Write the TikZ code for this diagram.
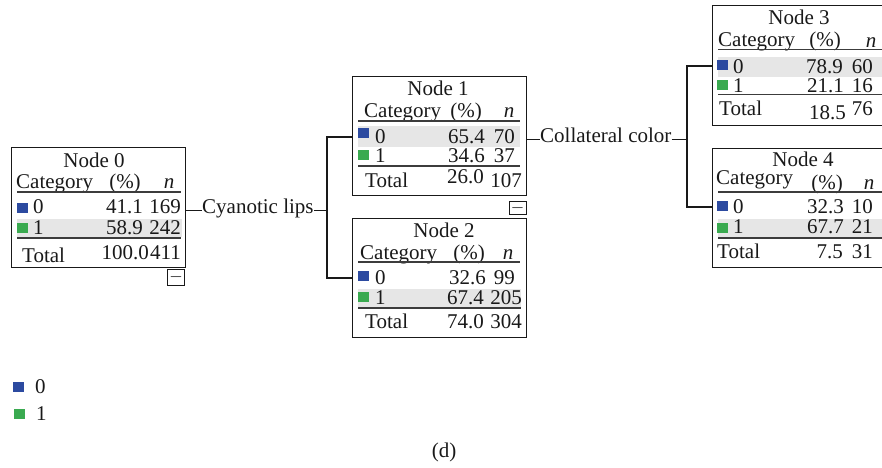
\documentclass[tikz,border=0pt]{standalone}
\usepackage{fontspec}
\setmainfont{Liberation Serif}
\definecolor{catblue}{RGB}{44,74,160}
\definecolor{catgreen}{RGB}{58,170,80}
\definecolor{bandgray}{RGB}{230,230,230}
\definecolor{ink}{RGB}{25,25,25}
\tikzset{
  tbox/.style={draw=ink, line width=1.2pt, rectangle, inner sep=0pt, anchor=north west},
  tx/.style={inner sep=0pt, font=\fontsize{21}{24}\selectfont, text=ink},
  tl/.style={tx, anchor=base west},
  tr/.style={tx, anchor=base east},
  tc/.style={tx, anchor=base},
  sqb/.style={inner sep=0pt, minimum width=10.5pt, minimum height=9.5pt, anchor=north west, fill=catblue},
  sqg/.style={inner sep=0pt, minimum width=10.5pt, minimum height=9.5pt, anchor=north west, fill=catgreen},
  band/.style={fill=bandgray},
  rulel/.style={draw=ink!85, line width=1.3pt},
  conn/.style={draw=ink, line width=1.3pt},
  minusbox/.style={draw=ink, line width=1.1pt, inner sep=0pt, anchor=north west, font=\fontsize{16}{16}\selectfont}
}
\begin{document}
\begin{tikzpicture}[x=1pt,y=-1pt]
\useasboundingbox (0,0) rectangle (882,467);
\clip (0,0) rectangle (882,467);

% ---------------- Node 0 ----------------
\fill[band] (17,219) rectangle (182,237);
\node[tbox, minimum width=174pt, minimum height=120pt] (n0) at (11,147) {};
\node[tc] (n0t) at (94,167) {Node 0};
\node[tl] (n0h1) at (16,188) {Category};
\node[tc] (n0h2) at (125,188) {(\%)};
\node[tc] (n0h3) at (169,188) {\itshape n};
\draw[rulel] (17,192) -- (181,192);
\node[sqb] (n0s0) at (17,203) {};
\node[tl] (n0c0) at (33,213) {0};
\node[tr] (n0p0) at (143,213) {41.1};
\node[tr] (n0n0) at (181,213) {169};
\node[sqg] (n0s1) at (17,223) {};
\node[tl] (n0c1) at (33,234) {1};
\node[tr] (n0p1) at (143,234) {58.9};
\node[tr] (n0n1) at (181,234) {242};
\draw[rulel] (17,238) -- (181,238);
\node[tl] (n0tl) at (22,262) {Total};
\node[tr] (n0tp) at (149,259) {100.0};
\node[tr] (n0tn) at (181,259) {411};
\node[minusbox, minimum width=17pt, minimum height=16pt] (m0) at (167,269) {$-$};

% ---------------- Node 1 ----------------
\fill[band] (358,126) rectangle (520,147);
\node[tbox, minimum width=174pt, minimum height=119pt] (n1) at (352,76) {};
\node[tc] (n1t) at (438,95) {Node 1};
\node[tl] (n1h1) at (364,117) {Category};
\node[tc] (n1h2) at (466,117) {(\%)};
\node[tc] (n1h3) at (509,117) {\itshape n};
\draw[rulel] (358,121) -- (520,121);
\node[sqb] (n1s0) at (358,128) {};
\node[tl] (n1c0) at (375,143) {0};
\node[tr] (n1p0) at (485,143) {65.4};
\node[tr] (n1n0) at (515,143) {70};
\node[sqg] (n1s1) at (358,150) {};
\node[tl] (n1c1) at (375,162) {1};
\node[tr] (n1p1) at (485,162) {34.6};
\node[tr] (n1n1) at (515,162) {37};
\draw[rulel] (358,166) -- (520,166);
\node[tl] (n1tl) at (365,187) {Total};
\node[tr] (n1tp) at (484,183) {26.0};
\node[tr] (n1tn) at (522,187) {107};
\node[minusbox, minimum width=17pt, minimum height=12.5pt] (m1) at (508.5,201) {$-$};

% ---------------- Node 2 ----------------
\fill[band] (358,289) rectangle (521,307);
\node[tbox, minimum width=174pt, minimum height=119pt] (n2) at (352,218) {};
\node[tc] (n2t) at (444,237) {Node 2};
\node[tl] (n2h1) at (360,259) {Category};
\node[tc] (n2h2) at (469,259) {(\%)};
\node[tc] (n2h3) at (508,259) {\itshape n};
\draw[rulel] (358,262) -- (520,262);
\node[sqb] (n2s0) at (358,271) {};
\node[tl] (n2c0) at (375,284) {0};
\node[tr] (n2p0) at (486,284) {32.6};
\node[tr] (n2n0) at (515,284) {99};
\node[sqg] (n2s1) at (358,292) {};
\node[tl] (n2c1) at (375,304) {1};
\node[tr] (n2p1) at (484,304) {67.4};
\node[tr] (n2n1) at (522,304) {205};
\draw[rulel] (358,308) -- (521,308);
\node[tl] (n2tl) at (365,328) {Total};
\node[tr] (n2tp) at (484,328) {74.0};
\node[tr] (n2tn) at (522,328) {304};

% ---------------- Node 3 ----------------
\fill[band] (718,57) rectangle (884,77);
\node[tbox, minimum width=174pt, minimum height=120pt] (n3) at (712,5) {};
\node[tc] (n3t) at (799,24) {Node 3};
\node[tl] (n3h1) at (718,46) {Category};
\node[tc] (n3h2) at (825,46) {(\%)};
\node[tc] (n3h3) at (871,47) {\itshape n};
\draw[rulel] (718,49.5) -- (884,49.5);
\node[sqb] (n3s0) at (717,60) {};
\node[tl] (n3c0) at (733,73) {0};
\node[tr] (n3p0) at (843,73) {78.9};
\node[tr] (n3n0) at (873,73) {60};
\node[sqg] (n3s1) at (717,80) {};
\node[tl] (n3c1) at (733,92) {1};
\node[tr] (n3p1) at (844,92) {21.1};
\node[tr] (n3n1) at (873,92) {16};
\draw[rulel] (718,94.5) -- (884,94.5);
\node[tl] (n3tl) at (719,115) {Total};
\node[tr] (n3tp) at (846,119) {18.5};
\node[tr] (n3tn) at (873,115) {76};

% ---------------- Node 4 ----------------
\fill[band] (718,219) rectangle (884,237);
\node[tbox, minimum width=174pt, minimum height=119pt] (n4) at (712,148) {};
\node[tc] (n4t) at (803,166) {Node 4};
\node[tl] (n4h1) at (716,184) {Category};
\node[tc] (n4h2) at (827,189) {(\%)};
\node[tc] (n4h3) at (869,189) {\itshape n};
\draw[rulel] (718,192) -- (884,192);
\node[sqb] (n4s0) at (717,201) {};
\node[tl] (n4c0) at (733,213) {0};
\node[tr] (n4p0) at (844,213) {32.3};
\node[tr] (n4n0) at (873,213) {10};
\node[sqg] (n4s1) at (717,223) {};
\node[tl] (n4c1) at (733,233) {1};
\node[tr] (n4p1) at (844,233) {67.7};
\node[tr] (n4n1) at (873,233) {21};
\draw[rulel] (718,238) -- (884,238);
\node[tl] (n4tl) at (717,258) {Total};
\node[tr] (n4tp) at (843,258) {7.5};
\node[tr] (n4tn) at (873,258) {31};

% ---------------- Split labels and connectors ----------------
\node[tl] (cl) at (202,213) {Cyanotic lips};
\node[tl] (cc) at (540,142) {Collateral color};
\coordinate (j1a) at (327,137);
\coordinate (j1b) at (327,278);
\coordinate (j2a) at (687,66);
\coordinate (j2b) at (687,207);
\draw[conn] (cl.mid west -| n0.east) -- (cl.mid west);
\draw[conn] (cl.mid east) -- (cl.mid east -| j1a);
\draw[conn] (j1a -| n1.west) -- (j1a) -- (j1b) -- (j1b -| n2.west);
\draw[conn] (cc.mid west -| n1.east) -- (cc.mid west);
\draw[conn] (cc.mid east) -- (cc.mid east -| j2a);
\draw[conn] (j2a -| n3.west) -- (j2a) -- (j2b) -- (j2b -| n4.west);

% ---------------- Legend ----------------
\node[sqb] (lg0) at (13,382) {};
\node[tl] (lgt0) at (35,393) {0};
\node[sqg] (lg1) at (14,409) {};
\node[tl] (lgt1) at (36,420) {1};

% ---------------- Caption ----------------
\node[tc] (cap) at (444,457) {(d)};
\end{tikzpicture}
\end{document}
